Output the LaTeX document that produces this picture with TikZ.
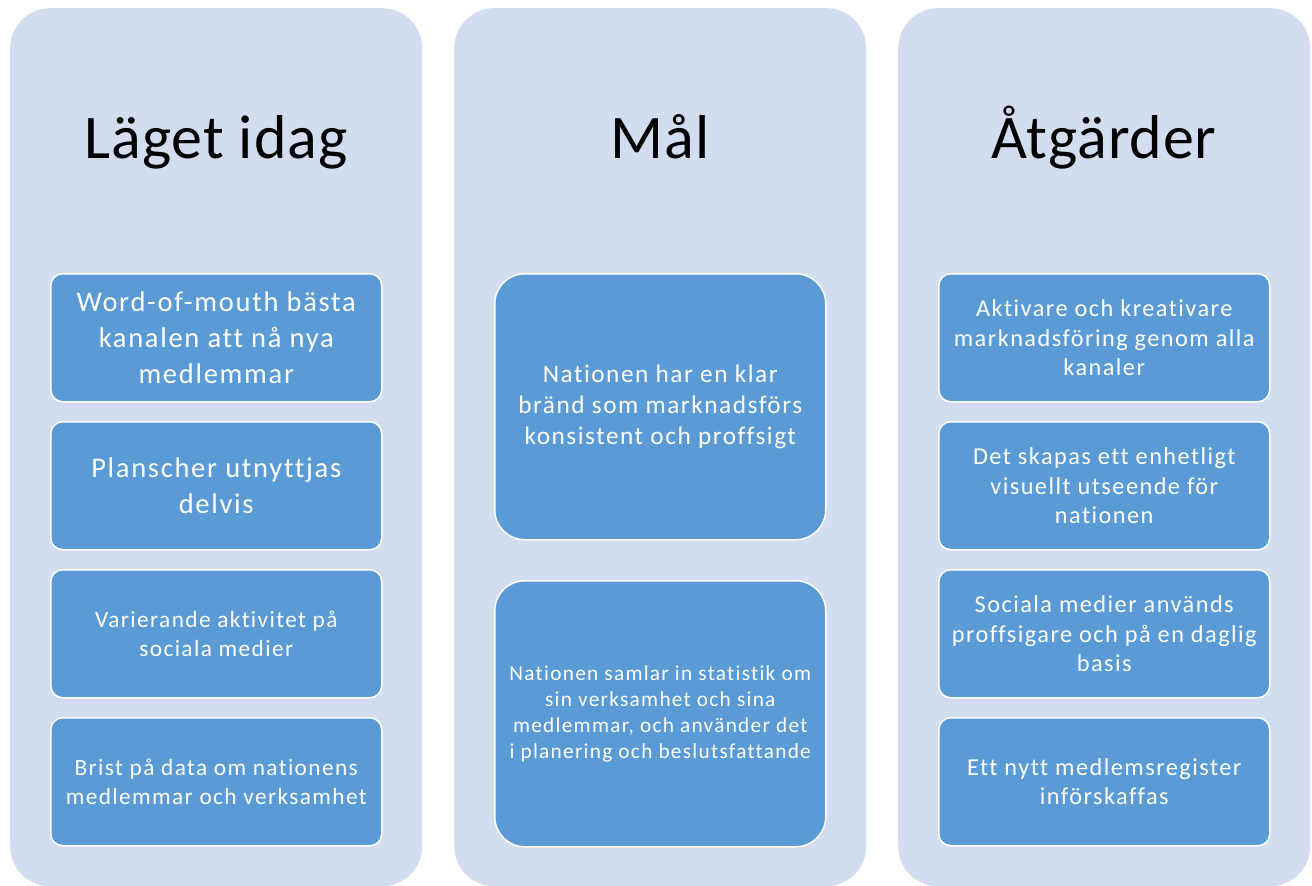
\documentclass[tikz,border=0pt]{standalone}
\usepackage{fontspec}
\setmainfont{Carlito}
\newfontfamily\bodyfont[LetterSpace=6,Ligatures=NoCommon]{Carlito}
\newfontfamily\titlefont[LetterSpace=1.5,Ligatures=NoCommon]{Carlito}
\definecolor{colbg}{RGB}{210,222,239}
\definecolor{boxbg}{RGB}{91,155,213}
\begin{document}
\begin{tikzpicture}[x=1pt,y=-1pt,
  colbox/.style={fill=colbg, rounded corners=40pt, minimum width=412pt, minimum height=878pt, inner sep=0pt, anchor=north west},
  coltitle/.style={anchor=base, font=\titlefont\fontsize{62}{70}\selectfont, text=black},
  smallbox/.style={fill=boxbg, draw=white, line width=1.5pt, rounded corners=12pt, minimum width=331pt, minimum height=128pt, inner sep=0pt, anchor=north west, text=white, align=center},
  tallbox/.style={fill=boxbg, draw=white, line width=1.5pt, rounded corners=30pt, minimum width=331pt, minimum height=266pt, inner sep=0pt, anchor=north west, text=white, align=center},
  fa/.style={font=\bodyfont\fontsize{28.5}{36}\selectfont},
  fb/.style={font=\bodyfont\fontsize{23.3}{29}\selectfont},
  fc/.style={font=\bodyfont\fontsize{24.3}{29.5}\selectfont},
  fd/.style={font=\bodyfont\fontsize{25.3}{31}\selectfont},
  fe/.style={font=\bodyfont\fontsize{21.3}{26}\selectfont}]
\useasboundingbox (0,0) rectangle (1312,886);
\fill[white] (0,0) rectangle (1312,886);
% columns
\node[colbox] (c1) at (10,8) {};
\node[colbox] (c2) at (454,8) {};
\node[colbox] (c3) at (898,8) {};
% titles
\node[coltitle] (t1) at (216,158) {Läget idag};
\node[coltitle] (t2) at (660,158) {Mål};
\node[coltitle] (t3) at (1104,158) {Åtgärder};
% column 1
\node[smallbox,fa] (a1) at (50,273) {Word-of-mouth bästa\\kanalen att nå nya\\medlemmar};
\node[smallbox,fa] (a2) at (50,421) {Planscher utnyttjas\\delvis};
\node[smallbox,fb] (a3) at (50,569) {Varierande aktivitet på\\sociala medier};
\node[smallbox,fb] (a4) at (50,717) {Brist på data om nationens\\medlemmar och verksamhet};
% column 2
\node[tallbox,fd] (b1) at (494,273) {Nationen har en klar\\bränd som marknadsförs\\konsistent och proffsigt};
\node[tallbox,fe] (b2) at (494,580) {Nationen samlar in statistik om\\sin verksamhet och sina\\medlemmar, och använder det\\i planering och beslutsfattande};
% column 3
\node[smallbox,fc] (d1) at (938,273) {Aktivare och kreativare\\marknadsföring genom alla\\kanaler};
\node[smallbox,fc] (d2) at (938,421) {Det skapas ett enhetligt\\visuellt utseende för\\nationen};
\node[smallbox,fc] (d3) at (938,569) {Sociala medier används\\proffsigare och på en daglig\\basis};
\node[smallbox,fc] (d4) at (938,717) {Ett nytt medlemsregister\\införskaffas};
\end{tikzpicture}
\end{document}
